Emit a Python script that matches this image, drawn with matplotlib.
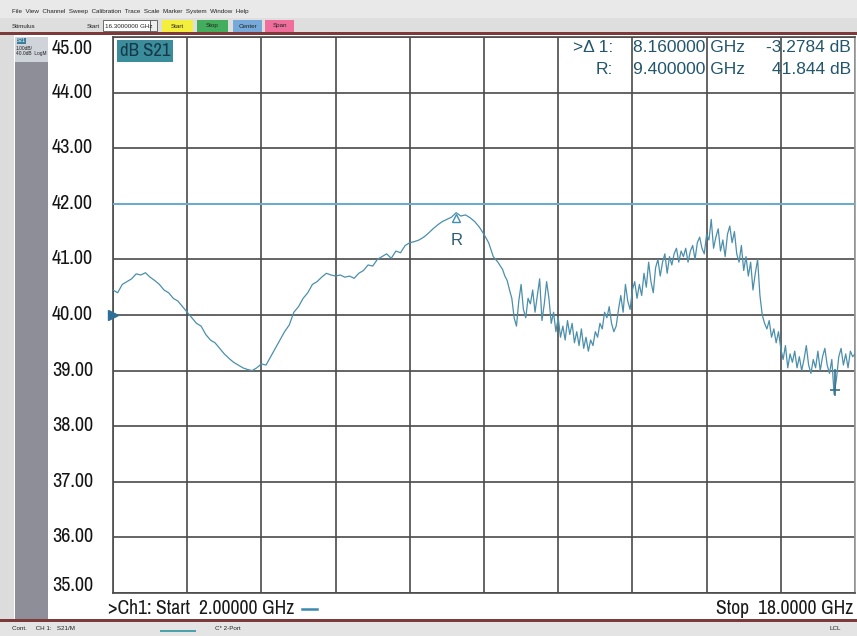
import numpy as np
import matplotlib
matplotlib.use('Agg')
from matplotlib import pyplot as plt
from matplotlib import font_manager
from matplotlib.patches import Rectangle

# sweep grid: 0.1 GHz steps on the smooth part, 0.05 GHz on the noisy part
freq_a = np.round(np.arange(2.0, 10.41, 0.1), 2)
freq_b = np.round(np.arange(10.45, 18.001, 0.05), 2)

# dB S21
s21_a = [40.45, 40.40, 40.55, 40.60, 40.65, 40.74, 40.72, 40.76, 40.68, 40.62,
         40.55, 40.45, 40.40, 40.30, 40.25, 40.15, 40.05, 39.95, 39.85, 39.80,
         39.65, 39.55, 39.50, 39.40, 39.30, 39.22, 39.15, 39.10, 39.05, 39.02,
         39.00, 39.05, 39.12, 39.10, 39.25, 39.40, 39.55, 39.70, 39.82, 40.05,
         40.15, 40.30, 40.40, 40.55, 40.60, 40.68, 40.75, 40.72, 40.70, 40.72,
         40.68, 40.70, 40.66, 40.75, 40.80, 40.90, 40.88, 41.00, 41.05, 41.10,
         41.02, 41.15, 41.12, 41.25, 41.30, 41.32, 41.35, 41.40, 41.47, 41.55,
         41.62, 41.68, 41.72, 41.76, 41.84, 41.78, 41.80, 41.75, 41.68, 41.58,
         41.45, 41.30, 41.05, 40.95, 40.82]
s21_b = [40.70, 40.62, 40.45, 40.30, 39.95, 39.80, 40.25, 40.55, 40.10, 39.95,
         40.30, 40.20, 40.45, 40.05, 40.35, 40.65, 39.90, 40.20, 40.60, 40.30,
         39.85, 40.05, 39.70, 39.95, 39.60, 39.80, 39.55, 39.90, 39.65, 39.85,
         39.50, 39.70, 39.45, 39.75, 39.40, 39.60, 39.35, 39.55, 39.45, 39.70,
         39.60, 39.85, 39.75, 40.05, 39.95, 40.15, 39.85, 39.70, 39.80, 40.10,
         40.35, 40.05, 40.55, 40.25, 40.10, 40.45, 40.60, 40.30, 40.55, 40.35,
         40.75, 40.50, 40.95, 40.60, 40.40, 40.85, 41.00, 40.70, 40.95, 41.10,
         40.75, 41.05, 40.90, 41.10, 41.20, 40.95, 41.15, 41.05, 41.20, 40.95,
         41.15, 41.25, 41.00, 41.30, 41.40, 41.20, 41.10, 41.45, 41.35, 41.72,
         41.20, 41.40, 41.55, 41.15, 41.35, 41.05, 41.45, 41.60, 41.30, 41.50,
         41.10, 40.95, 41.25, 40.80, 41.05, 40.70, 40.95, 40.45, 40.75, 41.00,
         40.35, 40.00, 39.85, 39.75, 39.90, 39.60, 39.75, 39.50, 39.70, 39.40,
         39.20, 39.45, 39.05, 39.30, 39.15, 39.35, 39.05, 39.25, 39.00, 39.20,
         39.45, 39.10, 38.95, 39.20, 39.05, 39.35, 39.00, 39.25, 39.40, 39.10,
         38.95, 39.20, 38.57, 38.85, 39.25, 39.40, 39.10, 39.30, 39.05, 39.35,
         39.25, 39.30]

freq = np.concatenate([freq_a, freq_b])
s21 = np.array(s21_a + s21_b)

y_ticks = [45, 44, 43, 42, 41, 40, 39, 38, 37, 36, 35]
y_labels = ['45.00', '44.00', '43.00', '42.00', '41.00', '40.00',
            '39.00', '38.00', '37.00', '36.00', '35.00']
x_ticks = [2.0, 3.6, 5.2, 6.8, 8.4, 10.0, 11.6, 13.2, 14.8, 16.4, 18.0]

ref_marker = (9.4, 41.844)
delta_marker = (9.4 + 8.16, 41.844 - 3.2784)
limit_line = 42.0

# condensed face if one is installed, else regular Liberation Sans at a smaller size
narrow = None
for f in font_manager.fontManager.ttflist:
    if 'Narrow' in f.name or 'Condensed' in f.name:
        if f.weight in (400, 'normal', 'regular') and f.style == 'normal':
            narrow = f.name
            break
arial = 'Liberation Sans'
if narrow:
    nfam, ylab_fs, bot_fs, dbs_fs = narrow, 14.5, 14.2, 13.5
else:
    nfam, ylab_fs, bot_fs, dbs_fs = arial, 12.2, 11.6, 11.5

W, H = 857, 636
fig = plt.figure(figsize=(W / 100, H / 100), dpi=100)
fig.patch.set_facecolor('#dcdcdc')

# background layer in pixel coordinates
bg = fig.add_axes([0, 0, 1, 1], zorder=0)
bg.set_xlim(0, W)
bg.set_ylim(H, 0)
bg.axis('off')

def box(ax, x0, y0, x1, y1, color, **kw):
    ax.add_patch(Rectangle((x0, y0), x1 - x0, y1 - y0, facecolor=color, edgecolor=kw.pop('ec', 'none'), **kw))

box(bg, 0, 0, W, 18, '#e9e9e9')
box(bg, 0, 18, W, 32, '#dedede')
box(bg, 0, 32, W, 35, '#7d3a3a')
box(bg, 14, 35, W, 619, 'white')
box(bg, 15, 37, 48, 619, '#8d8e97')
box(bg, 15, 37, 48, 62, '#cfd3da')
box(bg, 0, 619, W, 622, '#7d3a3a')
box(bg, 0, 622, W, H, '#e4e4e4')
box(bg, 160, 630, 196, 632, '#4aa3a8')

# toolbar
box(bg, 103, 20, 150, 31, 'white', ec='#555555', lw=0.6)
box(bg, 150, 20, 157, 31, '#eeeeee', ec='#555555', lw=0.6)
btns = [('Start', 162, 193, '#f4ee3c'), ('Stop', 197, 228, '#42ad5c'),
        ('Center', 233, 262, '#74a9d9'), ('Span', 265, 294, '#ef6e9c')]
for lab, x0, x1, c in btns:
    box(bg, x0, 20, x1, 32, c)

# main chart
x0, x1, y0, y1 = 113, 855, 37, 593
ax = fig.add_axes([x0 / W, 1 - y1 / H, (x1 - x0) / W, (y1 - y0) / H], zorder=1)
ax.set_facecolor('white')
ax.set_xlim(2, 18)
ax.set_ylim(35, 45)
ax.set_xticks(x_ticks)
ax.set_yticks(y_ticks)
ax.tick_params(length=0, labelleft=False, labelbottom=False)
ax.grid(True, color='#4a4a4a', lw=1.2)
for sp in ax.spines.values():
    sp.set_color('#4a4a4a')
    sp.set_linewidth(1.2)
ax.spines['right'].set_color('#9a9a9a')

ax.axhline(limit_line, color='#6aaed2', lw=1.4, zorder=3)
ax.plot(freq, s21, color='#4b8fab', lw=0.9, zorder=4)

# markers
ax.plot(ref_marker[0], ref_marker[1] - 0.1, marker='^', ms=6, mfc='none', mec='#3f8fb0', mew=1.0, zorder=5)
ax.annotate('R', xy=ref_marker, xytext=(0, -20), textcoords='offset points',
            ha='center', va='center', fontsize=12, color='#2b5d70', family=arial)
ax.plot([delta_marker[0]] * 2, [delta_marker[1], delta_marker[1] + 0.45], color='#35708a', lw=1.2, zorder=5)
ax.plot(delta_marker[0], delta_marker[1] + 0.08, marker='_', ms=7, color='#35708a', mew=1.2, zorder=5)

# reference position arrow
ax.plot(2.0, 40.0, marker='>', ms=7, color='#2d6f98', clip_on=False, zorder=6)

# y labels
ytr = ax.get_yaxis_transform()
lx = (52 - x0) / (x1 - x0)
for v, lab in zip(y_ticks, y_labels):
    if v == 45:
        yy = v - 0.2
    elif v == 35:
        yy = v + 0.14
    else:
        yy = v + 0.01
    ax.text(lx, yy, lab, transform=ytr, ha='left', va='center', fontsize=ylab_fs,
            family=nfam, color='#141414')

# overlay texts in pixel coordinates
ov = fig.add_axes([0, 0, 1, 1], zorder=2)
ov.set_xlim(0, W)
ov.set_ylim(H, 0)
ov.axis('off')
ov.patch.set_alpha(0)

ov.text(120, 51, 'dB S21', ha='left', va='center', fontsize=dbs_fs, family=nfam, color='#15394a',
        bbox=dict(boxstyle='square,pad=0.15', fc='#3c8d9c', ec='none'))

tc = '#23566b'
ov.text(613, 47, '>\u0394 1:', ha='right', va='center', fontsize=12.5, family=arial, color=tc)
ov.text(633, 47, '8.160000 GHz', ha='left', va='center', fontsize=12.5, family=arial, color=tc)
ov.text(851, 47, '-3.2784 dB', ha='right', va='center', fontsize=12.5, family=arial, color=tc)
ov.text(613, 69, 'R:', ha='right', va='center', fontsize=12.5, family=arial, color=tc)
ov.text(633, 69, '9.400000 GHz', ha='left', va='center', fontsize=12.5, family=arial, color=tc)
ov.text(851, 69, '41.844 dB', ha='right', va='center', fontsize=12.5, family=arial, color=tc)

ov.text(108, 609, '>Ch1: Start  2.00000 GHz', ha='left', va='center', fontsize=bot_fs,
        family=nfam, color='#1a1a1a')
ov.plot([302, 317], [609, 609], color='#3a8ab0', lw=1.8)
ov.text(853, 609, 'Stop  18.0000 GHz', ha='right', va='center', fontsize=bot_fs,
        family=nfam, color='#1a1a1a')

# small UI text
small = dict(fontsize=4.5, family=arial, color='#222222', va='center')
ov.text(12, 11, 'File  View  Channel  Sweep  Calibration  Trace  Scale  Marker  System  Window  Help', ha='left', **small)
ov.text(12, 26, 'Stimulus', ha='left', **small)
ov.text(100, 26, 'Start', ha='right', **small)
ov.text(105, 26, '16.3000000 GHz', ha='left', **small)
for lab, bx0, bx1, c in btns:
    ov.text((bx0 + bx1) / 2, 26, lab, ha='center', **small)
ov.text(17, 41, 'S21', ha='left', fontsize=3.5, family=arial, color='white', va='center',
        bbox=dict(boxstyle='square,pad=0.1', fc='#3c7f9c', ec='none'))
ov.text(16, 48, '1.00dB/', ha='left', fontsize=3.5, family=arial, color='#222222', va='center')
ov.text(16, 54, '40.0dB  LogM', ha='left', fontsize=3.5, family=arial, color='#222222', va='center')
ov.text(12, 629, 'Cont.     CH 1:   S21/M', ha='left', **small)
ov.text(215, 629, 'C* 2-Port', ha='left', **small)
ov.text(830, 629, 'LCL', ha='left', **small)

fig.savefig('out.png', dpi=100)
